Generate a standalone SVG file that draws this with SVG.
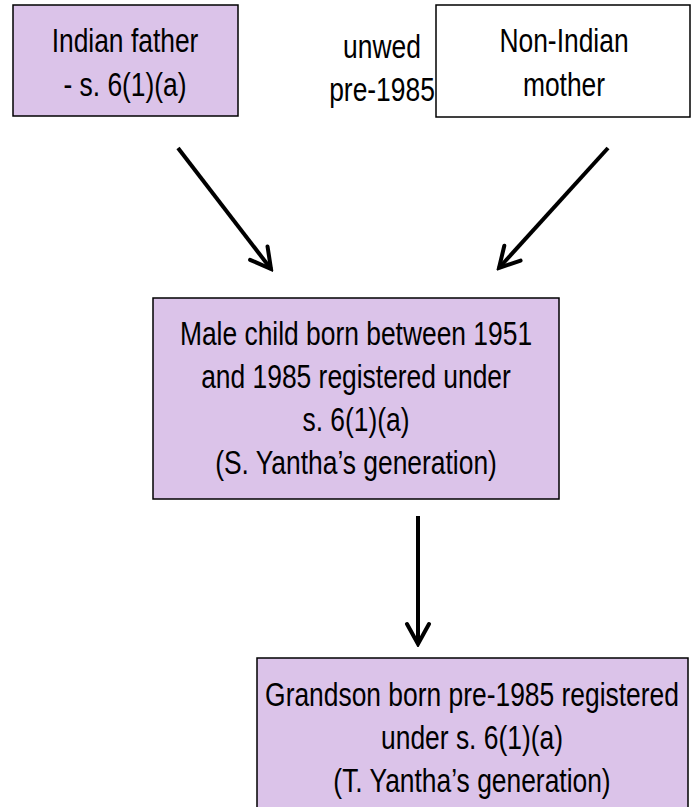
<svg xmlns="http://www.w3.org/2000/svg" width="695" height="807" viewBox="0 0 695 807">
<style>
.box{stroke:#000;stroke-width:1.5}
.p{fill:#dbc3e9}
.w{fill:#fff}
.t{font-family:"Liberation Sans",Arial,sans-serif;font-size:33px;fill:#000;text-anchor:middle}
.c{stroke:#000;stroke-width:4;fill:none}
</style>
<defs>
<marker id="ah" viewBox="0 0 26 28" refX="23" refY="14" markerWidth="26" markerHeight="28" markerUnits="userSpaceOnUse" orient="auto">
<path d="M3,3 L23,14 L3,25" fill="none" stroke="#000" stroke-width="4" stroke-linecap="round" stroke-linejoin="miter"/>
</marker>
</defs>
<rect width="695" height="807" fill="#fff"/>
<g id="father">
<rect class="box p" x="13" y="5" width="225" height="111"/>
<text class="t" transform="translate(125,52) scale(0.8,1)">Indian father</text>
<text class="t" transform="translate(125,96) scale(0.8,1)">- s. 6(1)(a)</text>
</g>
<g id="rel-label">
<text class="t" transform="translate(382,58) scale(0.8,1)">unwed</text>
<text class="t" transform="translate(382,101) scale(0.8,1)">pre-1985</text>
</g>
<g id="mother">
<rect class="box w" x="436" y="5" width="254" height="112"/>
<text class="t" transform="translate(564,52) scale(0.8,1)">Non-Indian</text>
<text class="t" transform="translate(564,96) scale(0.8,1)">mother</text>
</g>
<g id="child">
<rect class="box p" x="153" y="298" width="406" height="201"/>
<text class="t" transform="translate(356,345) scale(0.8,1)">Male child born between 1951</text>
<text class="t" transform="translate(356,388) scale(0.8,1)">and 1985 registered under</text>
<text class="t" transform="translate(356,431) scale(0.8,1)">s. 6(1)(a)</text>
<text class="t" transform="translate(356,474) scale(0.8,1)">(S. Yantha’s generation)</text>
</g>
<g id="grandson">
<rect class="box p" x="257" y="658" width="431" height="160"/>
<text class="t" transform="translate(472,706) scale(0.8,1)">Grandson born pre-1985 registered</text>
<text class="t" transform="translate(472,749) scale(0.8,1)">under s. 6(1)(a)</text>
<text class="t" transform="translate(472,792) scale(0.8,1)">(T. Yantha’s generation)</text>
</g>
<g id="connectors">
<line class="c" x1="178" y1="148" x2="271" y2="269" marker-end="url(#ah)"/>
<line class="c" x1="608" y1="148" x2="499" y2="268" marker-end="url(#ah)"/>
<line class="c" x1="418" y1="516" x2="418" y2="644" marker-end="url(#ah)"/>
</g>
</svg>
